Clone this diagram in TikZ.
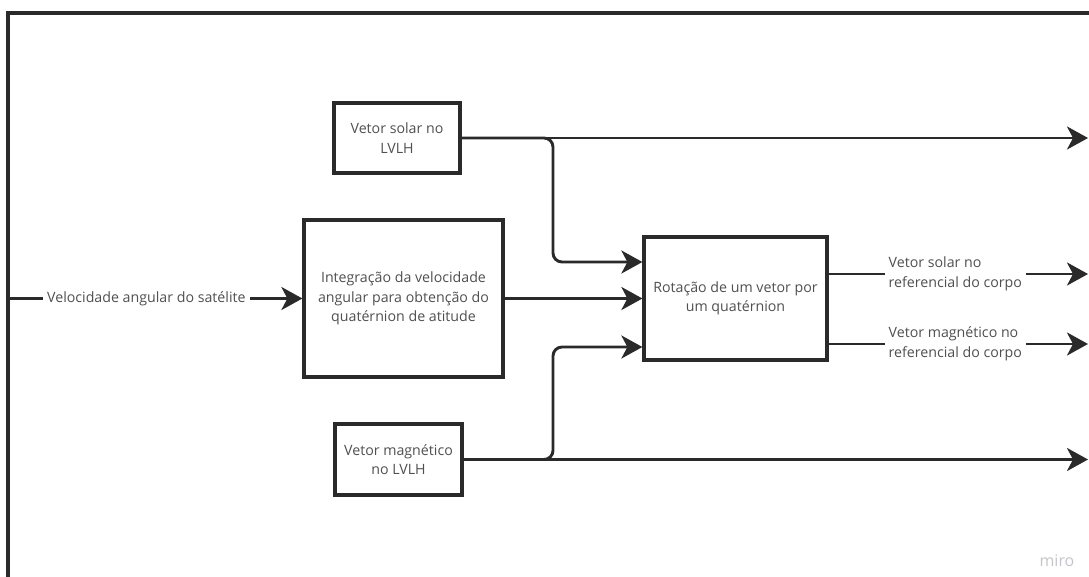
\documentclass[tikz,border=0pt]{standalone}
\usepackage{fontspec}
\setmainfont{Open Sans}
\usetikzlibrary{arrows.meta,calc}
\definecolor{linec}{HTML}{2A2A2A}
\definecolor{txtc}{HTML}{505050}
\definecolor{miroc}{HTML}{C4C4CA}
\tikzset{
  blk/.style={draw=linec, line width=3.2pt, fill=white, align=center, text=txtc,
    font=\fontsize{14.2}{19.5}\selectfont, inner sep=0pt},
  conn/.style={draw=linec, line width=2.9pt},
  arr/.style={conn, -{Stealth[length=21pt,width=23pt,inset=6pt]}},
  lbl/.style={fill=white, text=txtc, font=\fontsize{14.2}{19.5}\selectfont, inner xsep=4pt, inner ysep=1pt},
}
\begin{document}
\begin{tikzpicture}[x=1pt,y=-1pt]
\useasboundingbox (0,0) rectangle (1089,576);
% frame
\draw[draw=linec, line width=3.2pt] (8,578) -- (8,13) -- (1091,13);
% blocks
\node[blk, minimum width=126pt, minimum height=70pt] (sol) at (397,138) {Vetor solar no\\LVLH};
\node[blk, minimum width=199pt, minimum height=157pt] (integ) at (403.5,298.5) {Integração da velocidade\\angular para obtenção do\\quatérnion de atitude};
\node[blk, minimum width=183pt, minimum height=123pt] (rot) at (735.5,298.5) {Rotação de um vetor por\\um quatérnion};
\node[blk, minimum width=127pt, minimum height=71pt] (mag) at (398.5,459.5) {Vetor magnético\\no LVLH};
% helper coordinates
\coordinate (inl) at (8,298.5);
\coordinate (endx) at (1088,0);
\coordinate (bx) at (553,0);
\coordinate (r1) at ($(rot.west)+(0,-36.5)$);
\coordinate (r3) at ($(rot.west)+(0,48.5)$);
\coordinate (o1) at ($(rot.east)+(0,-24.5)$);
\coordinate (o2) at ($(rot.east)+(0,45.5)$);
% input
\draw[arr] (inl) -- node[lbl, pos=0.47] {Velocidade angular do satélite} (integ.west);
% integration to rotation
\draw[arr] (integ.east) -- (rot.west);
% solar vector
\draw[arr] (sol.east) -- (sol.east -| endx);
\draw[arr, rounded corners=9pt] (sol.east) -| (bx |- r1) -- (r1);
% magnetic vector
\draw[arr] (mag.east) -- (mag.east -| endx);
\draw[arr, rounded corners=9pt] (mag.east) -| (bx |- r3) -- (r3);
% outputs
\draw[arr] (o1) -- node[lbl, align=left, xshift=-3pt] {Vetor solar no\\referencial do corpo} (o1 -| endx);
\draw[arr] (o2) -- node[lbl, align=left, xshift=-3pt] {Vetor magnético no\\referencial do corpo} (o2 -| endx);
% watermark
\node[text=miroc, font=\fontsize{16}{18}\selectfont] (miro) at (1057,561) {miro};
\end{tikzpicture}
\end{document}
